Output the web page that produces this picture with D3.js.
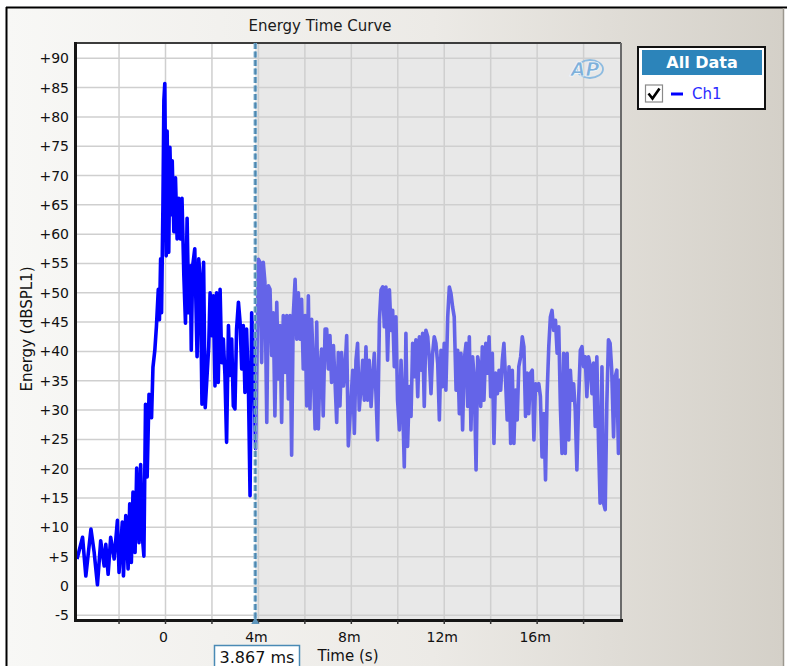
<!DOCTYPE html>
<html>
<head>
<meta charset="utf-8">
<script src="https://cdn.jsdelivr.net/npm/d3@7"></script>
<style>
body{margin:0;background:#fff;}
svg{display:block;font-family:"DejaVu Sans",sans-serif;}
</style>
</head>
<body>
<svg id="chart" width="787" height="666"></svg>
<script>
// Ch1 energy time curve, [time in ms, level in dBSPL1]
const ch1Rise = [[-3.81,4.6],[-3.57,8.3],[-3.43,1.7],[-3.21,9.7],[-3.07,5.7],[-2.93,0.2],[-2.79,7.7],[-2.64,3.4],[-2.57,7.1],[-2.47,2.0],[-2.36,8.3],[-2.21,4.6],[-2.07,11.2],[-2.00,2.3],[-1.86,10.9],[-1.81,1.7],[-1.71,12.0],[-1.61,2.9],[-1.54,14.0],[-1.47,4.0],[-1.40,16.0],[-1.31,5.7],[-1.24,20.1],[-1.14,7.4],[-1.07,20.7],[-1.00,8.6],[-0.93,5.1],[-0.86,31.0],[-0.79,18.6],[-0.71,32.7],[-0.60,28.7],[-0.54,37.3],[-0.46,40.2],[-0.39,44.3],[-0.31,50.6],[-0.26,45.4],[-0.21,55.8],[-0.17,46.6],[-0.11,65.0],[-0.07,82.8],[-0.03,85.7]];
const ch1Decay = [[0.03,56.3],[0.07,77.6],[0.14,56.9],[0.19,74.8],[0.26,63.3],[0.29,72.5],[0.36,60.4],[0.43,69.6],[0.50,59.2],[0.57,66.1],[0.64,59.2],[0.71,66.1],[0.79,52.9],[0.86,44.8],[0.93,62.7],[1.00,46.6],[1.07,54.6],[1.11,40.2],[1.17,54.6],[1.26,57.5],[1.36,39.1],[1.43,55.8],[1.50,52.3],[1.57,31.0],[1.64,55.2],[1.71,30.4],[1.86,40.8],
  [1.92,50],[1.99,42.7],[2.06,49.5],[2.13,34.1],[2.20,50],[2.27,34.7],[2.35,50.6],[2.42,38.1],[2.49,42.1],[2.56,35.9],[2.63,24.5],[2.71,44.4],[2.78,35.9],[2.85,42.1],[2.92,30.7],[2.99,30.2],[3.06,43.8],[3.14,48.4],[3.21,45],[3.28,37],[3.35,44.4],[3.42,33],[3.49,43.8],[3.57,34.1],[3.64,15.4],[3.71,46.6],[3.78,40]];
const ch1TailA = [[3.88,23.4],[4.00,55.7],[4.07,55.2],[4.14,38.1],[4.21,55.2],[4.28,51.8],[4.36,27.9],[4.43,51.2],[4.50,50.6],[4.57,39.3],[4.64,46.6],[4.71,29],[4.79,48.4],[4.86,35.3],[4.93,44.4],[5.00,27.9],[5.07,46.1],[5.15,36.4],[5.22,46.1],[5.29,31.9],[5.36,46.1],[5.43,22.3],[5.50,46.1],[5.58,52.3],[5.65,42.1],[5.72,50],[5.79,42.1],[5.86,48.9],[5.93,37],[6.01,46.1],[6.08,30.7],[6.15,49.5],[6.22,30.2],[6.29,45.5],[6.36,38.1],[6.44,26.8],[6.51,45],[6.58,26.8],[6.65,37],[6.72,40.4],[6.79,29],[6.87,43.8],[6.94,43.8],[7.01,37],[7.08,42.7],[7.15,34.7],[7.23,41],[7.30,34.7],[7.37,27.9],[7.44,39.8],[7.51,30.7],[7.58,39.8],[7.66,34.1],[7.73,37],[7.80,42.7],[7.87,23.9]];
const ch1TailB = [[8.06,36.8],[8.13,26],[8.20,38.5],[8.27,41.4],[8.34,30],[8.42,34],[8.49,38.5],[8.56,31.7],[8.63,40.8],[8.70,31.7],[8.77,38.5],[8.85,30.6],[8.92,35.7],[8.99,39.7],[9.06,32.8],[9.13,24.9],[9.21,45.3],[9.28,50.5],[9.35,51],[9.42,44.2],[9.49,51],[9.56,38.5],[9.64,50.5],[9.71,43.6],[9.78,47],[9.85,37.4],[9.92,45.9],[9.99,31.7],[10.07,26.6],[10.14,38.5],[10.21,31.1],[10.28,20.3],[10.35,43.1],[10.42,23.8],[10.50,34],[10.57,28.9],[10.64,41.4],[10.71,35.7],[10.78,42],[10.86,32.3],[10.93,42.5],[11.00,36.8],[11.07,43.1],[11.14,30.6],[11.21,43.6],[11.29,42.5],[11.36,38.5],[11.43,32.8],[11.50,39.7],[11.57,42.5],[11.64,41.4],[11.72,37.9],[11.79,28.3],[11.86,40.2],[11.93,34],[12.00,41.4],[12.07,33.4],[12.15,45.9],[12.22,51],[12.29,49.9],[12.36,47.6],[12.43,45.9],[12.51,33.4],[12.58,40.2],[12.65,29.4],[12.72,39.7],[12.79,26.6],[12.86,38.5],[12.94,41.4],[13.01,30.6],[13.08,42.5],[13.15,26.6],[13.22,39.1],[13.29,35.7],[13.37,19.8],[13.44,39.1],[13.51,37.4]];
const ch1TailC = [[13.57,30.6],[13.64,40.8],[13.71,31.7],[13.79,41.4],[13.86,36.3],[13.93,42.5],[14.00,32.3],[14.07,39.7],[14.14,24.3],[14.21,36.3],[14.29,32.8],[14.36,36.8],[14.43,33.4],[14.50,38.5],[14.57,41.4],[14.64,35.1],[14.71,28.3],[14.79,37.4],[14.86,24.3],[14.93,36.8],[15.00,24.3],[15.07,33.4],[15.14,28.3],[15.21,37.4],[15.29,39.1],[15.36,42.5],[15.43,40.8],[15.50,28.9],[15.57,36.3],[15.64,29.4],[15.71,36.3],[15.79,36.8],[15.86,24.9],[15.93,34.5],[16.00,33.4],[16.07,34.5],[16.14,32.3],[16.21,22],[16.29,29.4],[16.36,18.1],[16.43,32.8],[16.50,40.8],[16.57,45.9],[16.64,47],[16.71,43.6],[16.79,45.3],[16.86,39.7],[16.93,44.2],[17.00,30.6],[17.07,22.6],[17.14,39.7],[17.21,22.6],[17.29,39.7],[17.36,24.9],[17.43,36.8],[17.50,31.7],[17.57,34.5],[17.64,30],[17.71,19.8],[17.79,32.3],[17.86,40.2],[17.93,40.8],[18.00,37.4],[18.07,39.1],[18.14,32.3],[18.21,39.1],[18.29,37.4],[18.36,32.8],[18.43,38],[18.50,27.2],[18.57,39.1],[18.64,24.9],[18.71,14.1],[18.79,37.4],[18.86,14.1],[18.93,13],[19.00,31.1],[19.07,42],[19.14,41.4],[19.21,36.8],[19.29,25.4],[19.36,35.7],[19.43,36.8],[19.50,22.6],[19.57,35.1],[19.61,30]];

const yTickValues = [-5,0,5,10,15,20,25,30,35,40,45,50,55,60,65,70,75,80,85,90];
const xGridValues = [-2,0,2,4,6,8,10,12,14,16,18];
const xTickValues = [0,4,8,12,16];
const xTickLabels = ["0","4m","8m","12m","16m"];
const cursorMs = 3.867;
const cursorText = "3.867 ms";

const svg = d3.select('#chart');
const W = 787, H = 666;
const pLeft = 77, pRight = 621, pTop = 43, pBottom = 620;

const x = d3.scaleLinear().domain([-3.81, 19.61]).range([pLeft, pRight]);
const y = d3.scaleLinear().domain([-5.8, 92.6]).range([pBottom, pTop]);

const defs = svg.append('defs');
const grad = defs.append('linearGradient').attr('id','bg').attr('x1','0').attr('x2','1').attr('y1','0').attr('y2','0');
grad.append('stop').attr('offset','0').attr('stop-color','#f8f8f6');
grad.append('stop').attr('offset','0.55').attr('stop-color','#eceae6');
grad.append('stop').attr('offset','1').attr('stop-color','#d4d0c8');

const cx = x(cursorMs);
defs.append('clipPath').attr('id','clipL').append('rect')
  .attr('x', pLeft).attr('y', pTop).attr('width', cx - pLeft).attr('height', pBottom - pTop);
defs.append('clipPath').attr('id','clipR').append('rect')
  .attr('x', cx).attr('y', pTop).attr('width', pRight - cx).attr('height', pBottom - pTop);

// window background + frame
svg.append('rect').attr('width', W).attr('height', H).attr('fill', '#ffffff');
svg.append('rect').attr('x', 6).attr('y', 7).attr('width', 777).attr('height', H - 7).attr('fill', 'url(#bg)');
svg.append('line').attr('x1', 6.5).attr('x2', 6.5).attr('y1', 7).attr('y2', H).attr('stroke', '#000').attr('stroke-width', 2);
svg.append('line').attr('x1', 6).attr('x2', 787).attr('y1', 7.5).attr('y2', 7.5).attr('stroke', '#000').attr('stroke-width', 2);
svg.append('line').attr('x1', 783.5).attr('x2', 783.5).attr('y1', 8).attr('y2', H).attr('stroke', '#9c988f').attr('stroke-width', 1.5);

svg.append('text').attr('x', 320).attr('y', 31).attr('text-anchor', 'middle')
  .style('font-size', '15px').attr('fill', '#1a1a1a').text('Energy Time Curve');

// plot background: live region white, region after cursor grey
svg.append('rect').attr('x', pLeft).attr('y', pTop).attr('width', cx - pLeft).attr('height', pBottom - pTop).attr('fill', '#ffffff');
svg.append('rect').attr('x', cx).attr('y', pTop).attr('width', pRight - cx).attr('height', pBottom - pTop).attr('fill', '#e8e8e8');

const grid = svg.append('g').attr('stroke', '#cfcfcf').attr('stroke-width', 1.5);
grid.selectAll('line.h').data(yTickValues).enter().append('line').attr('class','h')
  .attr('x1', pLeft).attr('x2', pRight).attr('y1', d => y(d)).attr('y2', d => y(d));
grid.selectAll('line.v').data(xGridValues).enter().append('line').attr('class','v')
  .attr('x1', d => x(d)).attr('x2', d => x(d)).attr('y1', pTop).attr('y2', pBottom);

// AP logo
const logo = svg.append('g').attr('transform', 'translate(586,69)');
logo.append('ellipse').attr('cx', 4).attr('cy', 0).attr('rx', 13).attr('ry', 9)
  .attr('fill', 'none').attr('stroke', '#8dbbe0').attr('stroke-width', 1.8);
logo.append('text').attr('x', -1).attr('y', 7).attr('text-anchor', 'middle')
  .style('font-size', '19px').style('font-style', 'italic').style('font-weight', 'bold')
  .attr('fill', '#7eb0da').attr('stroke', '#ffffff').attr('stroke-width', 0.6).text('AP');

// data
const allPoints = ch1Rise.concat(ch1Decay, ch1TailA, ch1TailB, ch1TailC);
const line = d3.line().x(d => x(d[0])).y(d => y(d[1]));
svg.append('path').datum(allPoints).attr('d', line).attr('clip-path', 'url(#clipL)')
  .attr('fill', 'none').attr('stroke', '#0000ff').attr('stroke-width', 3.6).attr('stroke-linejoin', 'round');
svg.append('path').datum(allPoints).attr('d', line).attr('clip-path', 'url(#clipR)')
  .attr('fill', 'none').attr('stroke', '#6464e8').attr('stroke-width', 3.6).attr('stroke-linejoin', 'round');

// plot frame
svg.append('line').attr('x1', pLeft - 1).attr('x2', pRight).attr('y1', pTop).attr('y2', pTop).attr('stroke', '#3c3c3c').attr('stroke-width', 2);
svg.append('line').attr('x1', pRight).attr('x2', pRight).attr('y1', pTop).attr('y2', pBottom).attr('stroke', '#6a6a6a').attr('stroke-width', 2);
svg.append('line').attr('x1', pLeft - 1.5).attr('x2', pLeft - 1.5).attr('y1', pTop - 1).attr('y2', pBottom + 2).attr('stroke', '#151515').attr('stroke-width', 3);
svg.append('line').attr('x1', pLeft - 3).attr('x2', pRight + 2).attr('y1', pBottom + 0.5).attr('y2', pBottom + 0.5).attr('stroke', '#151515').attr('stroke-width', 3);
svg.append('g').selectAll('line').data(xGridValues).enter().append('line')
  .attr('x1', d => x(d)).attr('x2', d => x(d)).attr('y1', pBottom).attr('y2', pBottom + 4)
  .attr('stroke', '#333').attr('stroke-width', 1.5);

// cursor
svg.append('line').attr('x1', cx).attr('x2', cx).attr('y1', pTop).attr('y2', pBottom + 3)
  .attr('stroke', '#7aaed0').attr('stroke-width', 3.5).attr('stroke-dasharray', '6,2.5');
svg.append('line').attr('x1', cx).attr('x2', cx).attr('y1', pTop).attr('y2', pBottom + 3)
  .attr('stroke', '#4f86ac').attr('stroke-width', 1.5).attr('stroke-dasharray', '6,2.5');
svg.append('path').attr('d', `M${cx - 4},${pBottom + 4} L${cx},${pBottom - 3} L${cx + 4},${pBottom + 4} Z`).attr('fill', '#5f97bd');

// axes
const yAxis = svg.append('g').attr('transform', 'translate(69,0)')
  .call(d3.axisLeft(y).tickValues(yTickValues).tickSize(0).tickPadding(0)
    .tickFormat(d => d > 0 ? '+' + d : String(d)));
yAxis.select('.domain').remove();
yAxis.selectAll('text').style('font-size', '14px').style('font-family', '"DejaVu Sans",sans-serif').attr('fill', '#111');

const xAxis = svg.append('g').attr('transform', `translate(-2.5,${pBottom})`)
  .call(d3.axisBottom(x).tickValues(xTickValues).tickSize(0).tickPadding(12)
    .tickFormat((d, i) => xTickLabels[i]));
xAxis.select('.domain').remove();
xAxis.selectAll('text').style('font-size', '14px').style('font-family', '"DejaVu Sans",sans-serif').attr('fill', '#111');

svg.append('text').attr('transform', 'translate(32,329) rotate(-90)').attr('text-anchor', 'middle')
  .style('font-size', '15px').attr('fill', '#111').text('Energy (dBSPL1)');
svg.append('text').attr('x', 348).attr('y', 661).attr('text-anchor', 'middle')
  .style('font-size', '15px').attr('fill', '#111').text('Time (s)');

// cursor readout
svg.append('rect').attr('x', 214.5).attr('y', 645.5).attr('width', 85).attr('height', 30)
  .attr('fill', '#ffffff').attr('stroke', '#4a8ab5').attr('stroke-width', 1.5);
svg.append('text').attr('x', 257).attr('y', 663).attr('text-anchor', 'middle')
  .style('font-size', '16px').attr('fill', '#111').text(cursorText);

// legend
const lg = svg.append('g');
lg.append('rect').attr('x', 638).attr('y', 47).attr('width', 127).attr('height', 62)
  .attr('fill', '#ffffff').attr('stroke', '#111').attr('stroke-width', 2);
lg.append('rect').attr('x', 642).attr('y', 50).attr('width', 120).attr('height', 25).attr('fill', '#2c84ba');
lg.append('text').attr('x', 702).attr('y', 68).attr('text-anchor', 'middle')
  .style('font-size', '16px').style('font-weight', 'bold').attr('fill', '#ffffff').text('All Data');
lg.append('rect').attr('x', 645.5).attr('y', 85).attr('width', 17).attr('height', 17)
  .attr('fill', '#fff').attr('stroke', '#8a8a8a').attr('stroke-width', 1.2);
lg.append('path').attr('d', 'M648.5,93.5 L652.5,98.5 L659.5,88.5').attr('fill', 'none')
  .attr('stroke', '#000').attr('stroke-width', 2.6);
lg.append('line').attr('x1', 671).attr('x2', 683).attr('y1', 94).attr('y2', 94)
  .attr('stroke', '#0000ff').attr('stroke-width', 3);
lg.append('text').attr('x', 692).attr('y', 99).style('font-size', '15px')
  .attr('fill', '#2b2bff').text('Ch1');
</script>
</body>
</html>
